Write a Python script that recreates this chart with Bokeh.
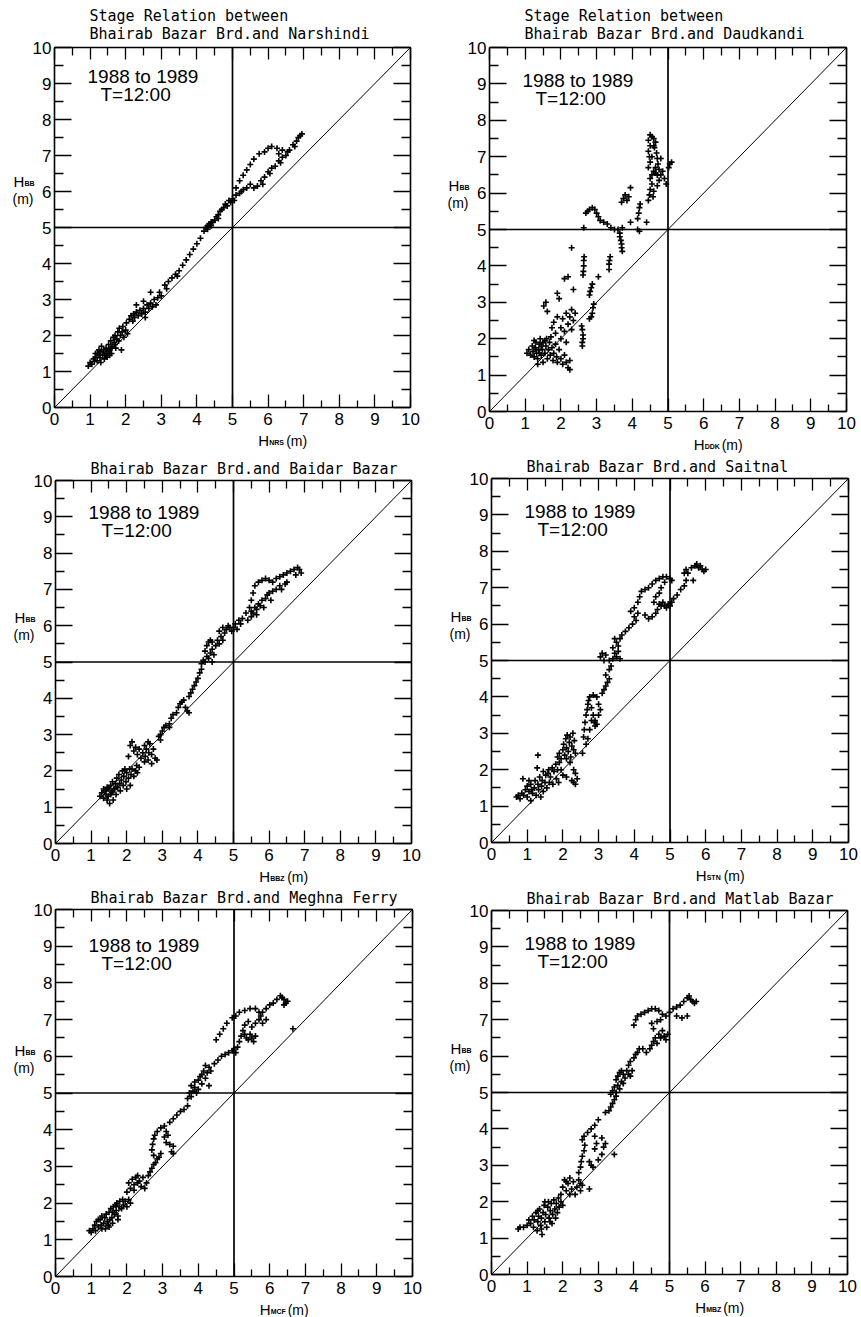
from bokeh.plotting import figure
from bokeh.models import Range1d, FixedTicker, LinearAxis, Label
from bokeh.layouts import row, column
from bokeh.embed import file_html
from bokeh.resources import INLINE

# ---------------- data ----------------
major_ticks = [0, 1, 2, 3, 4, 5, 6, 7, 8, 9, 10]
minor_ticks = [0.5, 1.5, 2.5, 3.5, 4.5, 5.5, 6.5, 7.5, 8.5, 9.5]
axis_bounds = (0, 10)
ref_line = [0, 10]
cross_level = [5, 5]
period_text = "1988 to 1989"
time_text = "T=12:00"
y_name = "BB"

titles = [
    ["Stage Relation between", "Bhairab Bazar Brd.and Narshindi"],
    ["Stage Relation between", "Bhairab Bazar Brd.and Daudkandi"],
    ["Bhairab Bazar Brd.and Baidar Bazar"],
    ["Bhairab Bazar Brd.and Saitnal"],
    ["Bhairab Bazar Brd.and Meghna Ferry"],
    ["Bhairab Bazar Brd.and Matlab Bazar"],
]
x_names = ["NRS", "DDK", "BBZ", "STN", "MCF", "MBZ"]

# (H_station, H_BB) pairs
nrs_pts = [
    (0.95,1.15),(1.0,1.25),(1.05,1.2),(1.1,1.35),(1.12,1.28),(1.15,1.4),(1.2,1.3),(1.2,1.5),(1.25,1.45),(1.28,1.38),
    (1.3,1.55),(1.32,1.7),(1.35,1.45),(1.38,1.6),(1.4,1.35),(1.42,1.5),(1.45,1.65),(1.48,1.4),(1.5,1.55),(1.52,1.75),
    (1.55,1.6),(1.58,1.85),(1.6,1.5),(1.62,1.7),(1.65,1.95),(1.68,1.8),(1.7,2.0),(1.72,1.65),(1.75,1.9),(1.78,2.1),
    (1.8,1.85),(1.82,2.2),(1.85,2.0),(1.88,1.6),(1.9,2.1),(1.92,2.25),(1.95,1.95),(2.0,2.15),(2.02,2.35),(2.05,2.05),
    (1.3,1.25),(1.15,1.5),(1.25,1.6),(1.45,1.45),(1.6,1.65),(1.7,1.75),(1.55,1.45),
    (2.1,2.45),(2.15,2.55),(2.2,2.4),(2.22,2.6),(2.25,2.5),(2.3,2.65),(2.35,2.55),(2.4,2.7),(2.45,2.6),(2.5,2.75),
    (2.55,2.65),(2.6,2.85),(2.65,2.75),(2.7,2.9),(2.75,2.8),(2.8,3.0),(2.85,2.85),(2.9,3.05),(2.95,3.2),(3.0,3.1),
    (2.3,2.85),(2.5,2.95),(2.7,3.2),(2.55,2.5),
    (3.1,3.4),(3.2,3.5),(3.3,3.6),(3.4,3.7),(3.5,3.8),(3.6,3.95),(3.7,4.1),(3.8,4.25),(3.9,4.4),(4.0,4.55),(4.1,4.7),
    (3.15,3.3),(3.45,3.65),
    (4.2,4.9),(4.25,5.0),(4.3,4.95),(4.35,5.1),(4.4,5.05),(4.45,5.15),(4.5,5.2),(4.3,5.05),(4.4,5.15),(4.55,5.3),
    (4.6,5.35),(4.65,5.45),(4.7,5.5),(4.75,5.55),(4.8,5.65),(4.85,5.6),(4.9,5.75),(4.95,5.7),(5.0,5.8),(5.05,5.75),(4.6,5.25),
    (5.2,6.3),(5.3,6.45),(5.4,6.6),(5.5,6.75),(5.6,6.9),(5.75,7.05),(5.9,7.1),(6.0,7.2),(6.1,7.25),(6.25,7.2),(5.1,6.1),(5.25,6.0),
    (5.1,5.9),(5.2,5.95),(5.3,6.05),(5.4,6.1),(5.5,6.2),(5.6,6.1),(5.7,6.15),(5.8,6.3),(5.85,6.2),(5.9,6.4),
    (6.0,6.55),(6.05,6.5),(6.1,6.65),(6.2,6.7),(6.3,6.85),(6.35,6.8),(6.4,6.95),(6.5,7.0),(6.55,7.1),(6.6,7.15),
    (6.7,7.3),(6.75,7.25),(6.8,7.4),(6.85,7.5),(6.9,7.55),(6.95,7.6),(6.4,7.15),(6.3,7.05),
]

ddk_pts = [
    (1.05,1.6),(1.1,1.7),(1.15,1.55),(1.2,1.8),(1.22,1.65),(1.25,1.5),(1.28,1.75),(1.3,1.9),(1.32,1.6),(1.35,1.45),
    (1.38,1.7),(1.4,1.85),(1.42,2.0),(1.45,1.55),(1.48,1.7),(1.5,1.35),(1.5,1.9),(1.55,1.6),(1.58,1.8),(1.6,2.0),
    (1.62,1.45),(1.65,1.7),(1.68,1.9),(1.7,1.55),(1.72,2.05),(1.75,1.75),(1.78,1.4),(1.8,1.6),(1.85,1.85),(1.88,1.5),
    (1.9,1.35),(1.95,1.7),(2.0,1.45),(2.05,1.3),(2.1,1.55),(2.15,1.35),(2.2,1.2),(2.25,1.15),(2.25,1.4),(1.35,1.3),
    (1.25,1.95),(1.4,1.6),(1.55,1.95),(1.3,1.7),(1.45,1.8),
    (1.52,2.9),(1.58,3.0),(1.62,2.75),(1.75,2.3),(1.8,2.45),(1.9,2.6),(1.9,3.25),(1.95,3.1),(1.85,2.15),(2.0,2.3),
    (2.05,2.55),(2.1,2.2),(2.1,3.65),(2.15,2.7),(2.2,2.4),(2.2,3.7),(2.25,2.6),(2.3,2.8),(2.3,2.25),(2.35,2.5),
    (2.35,3.35),(2.4,2.7),(2.3,4.5),(2.0,2.0),(2.15,1.9),
    (2.6,1.8),(2.6,1.9),(2.62,2.0),(2.62,2.1),(2.6,2.25),(2.58,2.35),
    (2.62,3.75),(2.63,3.85),(2.64,4.0),(2.64,4.15),(2.65,4.25),
    (2.8,3.2),(2.82,3.3),(2.85,3.4),(2.88,3.5),(2.85,2.6),(2.88,2.7),(2.9,2.85),(2.92,2.95),(2.8,2.55),
    (3.05,3.7),(3.35,3.9),(3.35,4.05),(3.36,4.15),(3.38,4.25),
    (2.64,5.05),(2.7,5.45),(2.75,5.5),(2.8,5.55),(2.88,5.6),(2.95,5.55),(3.0,5.45),(3.05,5.35),(3.1,5.25),(3.2,5.2),
    (3.3,5.15),(3.4,5.05),(3.5,5.0),(3.6,5.0),(3.65,4.9),(3.65,4.8),(3.68,4.7),(3.7,4.6),(3.7,4.5),(3.72,4.4),(3.72,5.05),
    (3.7,5.75),(3.75,5.85),(3.8,5.95),(3.85,5.8),(3.95,6.15),(3.9,5.9),
    (3.95,5.2),(4.15,5.0),(4.2,4.95),(4.15,5.3),(4.18,5.45),(4.2,5.6),(4.22,5.7),(4.4,5.2),
    (4.45,5.8),(4.48,5.95),(4.5,6.1),(4.55,6.25),(4.5,6.4),(4.55,6.5),(4.6,6.6),(4.45,6.7),(4.5,6.85),(4.48,7.0),
    (4.45,7.15),(4.5,7.3),(4.45,7.45),(4.5,7.6),(4.55,7.55),(4.6,7.5),(4.65,7.4),(4.62,7.25),(4.68,7.1),(4.7,6.95),
    (4.72,6.8),(4.75,6.65),(4.7,6.5),(4.65,6.55),(4.8,6.5),(4.75,6.35),(4.7,6.2),(4.6,6.05),(4.58,5.9),(4.85,6.6),
    (4.9,6.4),(4.95,6.25),(5.02,6.7),(5.05,6.8),(5.1,6.85),(4.8,6.95),(4.6,7.3),(4.55,7.0),(4.65,6.7),
]

bbz_pts = [
    (1.25,1.3),(1.3,1.4),(1.35,1.25),(1.4,1.45),(1.42,1.35),(1.45,1.55),(1.48,1.3),(1.5,1.5),(1.52,1.1),(1.55,1.6),
    (1.58,1.4),(1.6,1.7),(1.62,1.2),(1.65,1.5),(1.68,1.65),(1.7,1.35),(1.72,1.8),(1.75,1.55),(1.78,1.9),(1.8,1.65),
    (1.82,1.45),(1.85,1.75),(1.88,2.0),(1.9,1.6),(1.92,1.85),(1.95,2.05),(1.98,1.7),(2.0,1.95),(2.05,1.8),(2.08,2.05),
    (2.1,1.6),(2.12,1.9),(2.15,2.05),(2.2,1.85),(2.25,2.0),(2.28,2.15),(2.3,1.95),(2.35,2.1),(1.45,1.2),(1.6,1.45),
    (1.7,1.55),(1.55,1.35),(1.35,1.5),(2.0,1.5),
    (2.05,2.4),(2.1,2.7),(2.15,2.8),(2.2,2.55),(2.25,2.65),(2.3,2.45),(2.35,2.6),(2.4,2.35),(2.45,2.5),(2.5,2.7),
    (2.52,2.4),(2.55,2.6),(2.6,2.3),(2.62,2.5),(2.65,2.75),(2.7,2.45),(2.75,2.6),(2.8,2.35),(2.85,2.3),(2.5,2.25),
    (2.6,2.8),(2.7,2.2),
    (2.9,2.95),(2.95,2.85),(3.0,3.1),(3.05,3.2),(3.1,3.25),(3.2,3.3),(3.25,3.45),(3.3,3.55),(3.4,3.6),(3.45,3.75),
    (3.5,3.85),(3.55,3.9),(3.6,3.95),(3.65,3.75),(3.7,3.65),(3.75,3.6),(3.2,3.2),(2.95,3.0),
    (3.75,4.05),(3.8,4.15),(3.85,4.25),(3.9,4.35),(3.95,4.45),(4.0,4.55),(4.05,4.7),(4.1,4.8),
    (4.1,4.95),(4.15,5.05),(4.2,5.0),(4.25,5.15),(4.3,5.1),(4.35,5.25),(4.4,5.0),(4.4,5.35),(4.45,5.2),(4.2,5.3),
    (4.25,5.45),(4.3,5.55),(4.35,5.6),(4.4,5.55),(4.5,5.45),(4.55,5.6),(4.6,5.5),(4.65,5.7),(4.7,5.6),(4.75,5.8),
    (4.6,5.85),(4.7,5.95),(4.8,5.9),(4.85,6.0),(4.9,5.95),(4.95,5.85),
    (5.05,6.05),(5.15,6.15),(5.25,6.2),(5.35,6.35),(5.45,6.5),(5.5,6.7),(5.55,6.9),(5.6,7.1),(5.7,7.2),(5.8,7.25),
    (5.9,7.3),(6.0,7.25),(6.1,7.2),(6.2,7.3),(6.3,7.35),(6.4,7.4),(6.5,7.45),(6.6,7.5),(6.7,7.55),(6.8,7.6),
    (6.85,7.55),(6.9,7.45),(6.75,7.4),
    (5.0,5.95),(5.1,5.9),(5.2,6.05),(5.4,6.15),(5.5,6.25),(5.55,6.35),(5.6,6.5),(5.65,6.45),(5.7,6.6),(5.75,6.55),
    (5.8,6.7),(5.85,6.5),(5.9,6.75),(5.95,6.85),(6.0,6.9),(6.05,6.7),(6.1,6.95),(6.2,7.0),(6.3,7.1),(6.35,7.0),
    (6.45,7.15),(6.5,7.2),(5.65,6.3),(5.5,6.4),
]

stn_pts = [
    (0.7,1.25),(0.75,1.3),(0.8,1.2),(0.85,1.35),(0.88,1.75),(0.9,1.3),(0.95,1.45),(1.0,1.25),(1.0,1.55),(1.05,1.4),
    (1.1,1.15),(1.1,1.6),(1.15,1.35),(1.2,1.5),(1.22,1.7),(1.25,1.3),(1.28,2.05),(1.3,1.6),(1.32,1.45),(1.35,1.8),
    (1.38,1.25),(1.4,1.55),(1.42,1.7),(1.45,1.4),(1.5,1.65),(1.52,1.85),(1.55,1.5),(1.58,1.9),(1.6,2.0),(1.62,1.65),
    (1.65,1.8),(1.7,2.05),(1.72,1.6),(1.75,1.95),(1.8,2.15),(1.82,1.75),(1.85,2.0),(1.88,1.65),(1.9,2.2),(1.95,2.0),
    (1.3,2.4),(1.12,1.45),(1.05,1.7),(1.45,1.95),
    (1.85,2.35),(1.9,2.45),(1.95,2.3),(2.0,2.55),(2.02,2.7),(2.05,2.4),(2.08,2.85),(2.1,2.6),(2.12,2.95),(2.15,2.5),
    (2.18,2.75),(2.2,2.9),(2.22,2.35),(2.25,2.65),(2.28,3.0),(2.3,2.55),(2.32,2.8),(2.35,2.45),(2.1,2.3),(2.2,2.2),
    (2.3,2.0),(2.35,1.9),(2.4,1.75),(2.3,1.65),(2.35,1.6),(2.25,1.7),(2.1,1.8),(2.0,1.85),
    (2.55,2.45),(2.58,2.9),(2.6,3.1),(2.62,3.3),(2.65,3.5),(2.68,3.65),(2.7,3.8),(2.72,3.9),(2.75,4.0),(2.8,3.7),
    (2.85,3.5),(2.88,3.3),(2.9,3.2),(2.95,3.25),(2.8,3.35),(2.75,3.1),(2.7,2.85),(2.65,2.7),(2.85,4.05),(2.95,4.0),
    (3.0,3.8),(3.05,3.65),(3.0,3.5),(2.9,3.35),
    (3.1,4.1),(3.15,4.2),(3.2,4.3),(3.25,4.4),(3.3,4.5),(3.2,4.6),(3.3,4.75),(3.35,4.85),
    (3.05,5.1),(3.1,5.2),(3.15,5.0),(3.2,5.15),(3.3,5.0),(3.4,5.05),(3.45,5.2),(3.5,5.1),(3.55,5.25),(3.6,5.05),
    (3.55,5.4),(3.5,5.5),(3.6,5.6),(3.4,5.35),(3.45,5.6),
    (3.65,5.7),(3.75,5.8),(3.85,5.9),(3.95,6.0),(4.0,6.2),(4.05,6.1),(4.1,6.3),(4.0,6.45),(3.9,6.35),(4.1,6.6),
    (4.15,6.75),(4.2,6.9),(4.3,6.95),(4.4,7.0),(4.5,7.1),(4.6,7.2),(4.7,7.25),(4.8,7.3),(4.9,7.3),(5.0,7.25),
    (5.05,7.2),(4.85,7.15),
    (4.3,6.25),(4.4,6.15),(4.5,6.2),(4.6,6.3),(4.65,6.4),(4.7,6.55),(4.75,6.5),(4.8,6.6),(4.85,6.5),(4.9,6.45),
    (4.95,6.55),(5.0,6.5),(5.05,6.6),(4.6,6.75),(4.7,6.85),(4.75,7.0),(4.55,6.6),
    (5.1,6.7),(5.2,6.8),(5.3,6.95),(5.4,7.05),(5.45,7.2),(5.5,7.4),(5.6,7.55),(5.7,7.6),(5.75,7.65),(5.8,7.55),
    (5.85,7.6),(5.9,7.5),(5.95,7.45),(6.0,7.5),(5.65,7.2),(5.4,7.4),(5.45,7.5),
]

mcf_pts = [
    (0.95,1.25),(1.0,1.2),(1.05,1.3),(1.1,1.4),(1.12,1.25),(1.15,1.5),(1.2,1.35),(1.25,1.55),(1.28,1.4),(1.3,1.65),
    (1.35,1.45),(1.38,1.6),(1.4,1.3),(1.42,1.7),(1.45,1.5),(1.48,1.4),(1.5,1.75),(1.52,1.55),(1.55,1.85),(1.58,1.6),
    (1.6,1.45),(1.62,1.9),(1.65,1.7),(1.68,1.95),(1.7,1.8),(1.72,2.0),(1.75,1.65),(1.78,1.9),(1.8,2.05),(1.85,1.85),
    (1.88,2.1),(1.9,1.95),(1.95,2.05),(2.0,1.9),(2.05,2.1),(2.1,2.0),(1.3,1.3),(1.5,1.35),(1.6,1.75),(1.2,1.55),(1.75,1.55),
    (2.0,2.3),(2.05,2.55),(2.1,2.4),(2.15,2.65),(2.2,2.5),(2.25,2.7),(2.3,2.55),(2.35,2.6),(2.4,2.45),(2.45,2.7),
    (2.5,2.4),(2.55,2.55),(2.2,2.35),(2.3,2.75),
    (2.6,2.75),(2.65,2.85),(2.7,2.95),(2.75,3.05),(2.8,3.1),(2.85,3.2),(2.9,3.25),(2.95,3.35),(2.75,3.3),(2.7,3.45),
    (2.72,3.6),(2.75,3.75),(2.78,3.85),(2.85,3.95),(2.95,4.05),(3.05,4.1),(3.1,3.95),(3.05,3.8),(3.1,3.65),(3.2,3.6),
    (3.3,3.55),(3.25,3.4),(3.3,3.35),(3.15,3.85),
    (3.2,4.2),(3.3,4.3),(3.4,4.4),(3.5,4.5),(3.6,4.55),(3.7,4.65),
    (3.7,4.85),(3.75,5.0),(3.8,4.9),(3.85,5.05),(3.9,5.15),(3.95,5.0),(4.0,5.1),(3.8,5.2),(3.9,5.3),(4.0,5.35),
    (4.05,5.45),(4.1,5.5),(4.15,5.6),(4.2,5.4),(4.25,5.55),(4.3,5.7),(4.35,5.6),(4.2,5.75),(4.3,5.2),(4.1,5.25),
    (4.45,5.8),(4.55,5.9),(4.65,6.0),(4.75,6.05),(4.85,6.1),(4.95,6.15),(5.0,6.2),(5.05,6.1),(5.1,6.25),
    (4.5,6.45),(4.6,6.6),(4.7,6.75),(4.8,6.9),(4.95,7.05),(5.05,7.1),(5.15,7.2),(5.3,7.25),(5.45,7.3),(5.6,7.3),
    (5.7,7.2),(5.75,7.1),
    (5.15,6.4),(5.2,6.55),(5.25,6.7),(5.3,6.6),(5.35,6.5),(5.4,6.45),(5.45,6.6),(5.5,6.5),(5.55,6.4),(5.6,6.55),
    (5.3,6.85),(5.4,6.95),(5.5,6.8),(5.6,6.9),(5.7,7.0),(5.8,6.9),(5.9,7.0),
    (5.8,7.2),(5.9,7.3),(6.0,7.4),(6.1,7.45),(6.2,7.55),(6.3,7.65),(6.35,7.6),(6.4,7.55),(6.45,7.45),(6.5,7.5),
    (6.4,7.4),(6.65,6.75),
]

mbz_pts = [
    (0.75,1.25),(0.8,1.3),(0.9,1.3),(1.0,1.35),(1.05,1.5),(1.1,1.4),(1.15,1.6),(1.18,1.3),(1.2,1.5),(1.25,1.7),
    (1.28,1.2),(1.3,1.45),(1.32,1.6),(1.35,1.8),(1.38,1.35),(1.4,1.55),(1.42,1.1),(1.45,1.7),(1.48,1.9),(1.5,1.45),
    (1.52,1.65),(1.55,1.3),(1.58,1.85),(1.6,2.0),(1.62,1.55),(1.65,1.75),(1.68,1.95),(1.7,1.4),(1.72,1.65),(1.75,2.05),
    (1.78,1.8),(1.8,1.55),(1.82,1.95),(1.85,1.7),(1.88,2.1),(1.9,1.85),(1.95,2.0),(2.0,1.9),(1.4,1.25),(1.3,1.75),
    (1.5,2.0),(1.65,1.45),
    (1.95,2.2),(2.0,2.4),(2.05,2.6),(2.1,2.3),(2.15,2.5),(2.2,2.65),(2.25,2.35),(2.3,2.55),(2.35,2.2),(2.4,2.4),
    (2.45,2.6),(2.5,2.3),(2.55,2.45),(2.2,2.2),(2.1,2.55),(2.75,2.35),(2.5,2.5),
    (2.45,2.8),(2.5,2.95),(2.52,3.1),(2.55,3.25),(2.6,3.4),(2.62,3.55),(2.55,3.7),(2.6,3.8),(2.7,3.9),(2.8,4.0),
    (2.9,4.1),(3.0,4.25),(2.75,3.1),(2.8,3.0),(2.85,2.95),(3.0,3.15),(3.1,3.3),(3.15,3.5),(3.2,3.6),(3.1,3.75),
    (2.95,3.6),(2.9,3.45),(2.9,3.8),(3.45,3.3),
    (3.2,4.45),(3.3,4.5),(3.35,4.6),(3.4,4.7),(3.45,4.8),(3.5,4.9),
    (3.35,4.95),(3.4,5.05),(3.45,5.15),(3.5,5.0),(3.55,5.2),(3.6,5.1),(3.65,5.3),(3.7,5.25),(3.5,5.35),(3.55,5.45),
    (3.6,5.55),(3.65,5.6),(3.7,5.5),(3.75,5.4),(3.8,5.6),(3.85,5.5),(3.9,5.45),(3.95,5.6),(3.85,5.75),(3.9,5.85),
    (4.0,5.95),(4.05,6.05),(4.1,6.1),(4.15,6.2),(4.25,6.2),(4.35,6.1),(4.45,6.2),(4.5,6.3),(4.55,6.4),(4.6,6.5),
    (4.65,6.35),(4.7,6.6),(4.75,6.5),(4.8,6.7),(4.85,6.55),(4.9,6.45),(4.95,6.6),(4.55,6.75),(4.5,6.9),
    (4.0,6.85),(4.05,7.0),(4.1,7.1),(4.2,7.15),(4.3,7.2),(4.4,7.25),(4.5,7.3),(4.6,7.3),(4.7,7.25),(4.8,7.15),
    (4.9,7.1),(4.75,7.0),(4.65,6.95),
    (5.0,7.2),(5.1,7.3),(5.2,7.35),(5.3,7.4),(5.4,7.5),(5.5,7.6),(5.55,7.65),(5.6,7.55),(5.65,7.5),(5.7,7.45),
    (5.75,7.5),(5.2,7.1),(5.35,7.05),(5.5,7.1),
]

all_pts = [nrs_pts, ddk_pts, bbz_pts, stn_pts, mcf_pts, mbz_pts]

# ---------------- layout (pixel geometry) ----------------
# canvas width, height, box margin left, right, top, bottom
geoms = [
    (430, 455, 54, 20, 47, 48),
    (431, 455, 59, 15, 47, 44),
    (430, 430, 55, 19, 25, 42),
    (431, 430, 61, 13, 23, 43),
    (430, 432, 55, 18, 24, 41),
    (431, 432, 61, 14, 25, 43),
]

TICK_FONT = "Liberation Sans"
TITLE_FONT = "DejaVu Sans Mono"


def make_panel(pts, title_lines, xname, geom):
    W, H, bl, br, bt, bb = geom
    fw = W - bl - br
    fh = H - bt - bb
    px = lambda d: d / fw * 10.0
    py = lambda d: d / fh * 10.0

    p = figure(width=W, height=H,
               x_range=Range1d(-px(bl), 10 + px(br)), y_range=Range1d(-py(bb), 10 + py(bt)),
               output_backend="svg", toolbar_location=None,
               min_border=0, min_border_left=0, min_border_right=0, min_border_top=0, min_border_bottom=0,
               x_axis_location=None, y_axis_location=None)
    p.title.visible = False
    p.grid.visible = False
    p.outline_line_color = None
    p.background_fill_color = "white"
    p.border_fill_color = "white"

    def make_axis(loc, tin, mtin, show_labels):
        ax = LinearAxis(fixed_location=loc, bounds=axis_bounds)
        ax.ticker = FixedTicker(ticks=major_ticks, minor_ticks=minor_ticks)
        ax.major_tick_in = tin
        ax.major_tick_out = 0
        ax.minor_tick_in = mtin
        ax.minor_tick_out = 0
        ax.major_tick_line_width = 1.3
        ax.minor_tick_line_width = 1.3
        ax.axis_line_width = 1.6
        ax.major_tick_line_color = "black"
        ax.minor_tick_line_color = "black"
        ax.axis_line_color = "black"
        if show_labels:
            ax.major_label_text_font = TICK_FONT
            ax.major_label_text_font_size = "17px"
            ax.major_label_text_color = "black"
        else:
            ax.major_label_overrides = {t: "" for t in major_ticks}
            ax.major_label_standoff = 0
        return ax

    bottom = make_axis(0, 13, 7, True)
    bottom.major_label_standoff = 5
    p.add_layout(bottom, "below")
    left = make_axis(0, 17, 9, True)
    left.major_label_standoff = 3
    p.add_layout(left, "left")
    p.add_layout(make_axis(10, 12, 8, False), "above")
    p.add_layout(make_axis(10, 17, 9, False), "right")

    # reference lines
    p.line(ref_line, ref_line, line_color="black", line_width=1)
    p.line(cross_level, ref_line, line_color="black", line_width=1.7)
    p.line(ref_line, cross_level, line_color="black", line_width=1.7)

    xs = [a for a, b in pts]
    ys = [b for a, b in pts]
    p.scatter(xs, ys, marker="cross", size=6, line_width=1.6, line_color="black")

    # titles
    offs = [32, 14] if len(title_lines) == 2 else [12]
    for line, o in zip(title_lines, offs):
        p.add_layout(Label(x=px(35), y=10 + py(o), text=line, text_font=TITLE_FONT,
                           text_font_size="15px", text_baseline="middle", text_align="left",
                           text_color="black"))

    # period text
    p.add_layout(Label(x=px(33), y=py(331), text=period_text, text_font=TICK_FONT,
                       text_font_size="19px", text_baseline="middle", text_color="black"))
    p.add_layout(Label(x=px(46), y=py(313), text=time_text, text_font=TICK_FONT,
                       text_font_size="19px", text_baseline="middle", text_color="black"))

    # y label H_BB (m)
    yx = px(-41)
    p.add_layout(Label(x=yx, y=py(226), text="H", text_font=TICK_FONT, text_font_size="15px",
                       text_baseline="middle", text_color="black"))
    p.add_layout(Label(x=yx + px(11), y=py(224), text=y_name, text_font=TICK_FONT, text_font_size="7px",
                       text_font_style="bold", text_baseline="middle", text_color="black"))
    p.add_layout(Label(x=yx - px(1), y=py(209), text="(m)", text_font=TICK_FONT, text_font_size="14px",
                       text_baseline="middle", text_color="black"))

    # x label H_xx (m)
    xx = 5.72
    xy = -py(33)
    p.add_layout(Label(x=xx, y=xy, text="H", text_font=TICK_FONT, text_font_size="15px",
                       text_baseline="middle", text_color="black"))
    p.add_layout(Label(x=xx + px(11), y=xy - py(2), text=xname, text_font=TICK_FONT, text_font_size="7px",
                       text_font_style="bold", text_baseline="middle", text_color="black"))
    p.add_layout(Label(x=xx + px(28), y=xy, text="(m)", text_font=TICK_FONT, text_font_size="14px",
                       text_baseline="middle", text_color="black"))
    return p


figs = [make_panel(all_pts[i], titles[i], x_names[i], geoms[i]) for i in range(6)]
layout = column(row(figs[0], figs[1], spacing=0), row(figs[2], figs[3], spacing=0),
                row(figs[4], figs[5], spacing=0), spacing=0)

open("out.html", "w").write(file_html(layout, INLINE))
